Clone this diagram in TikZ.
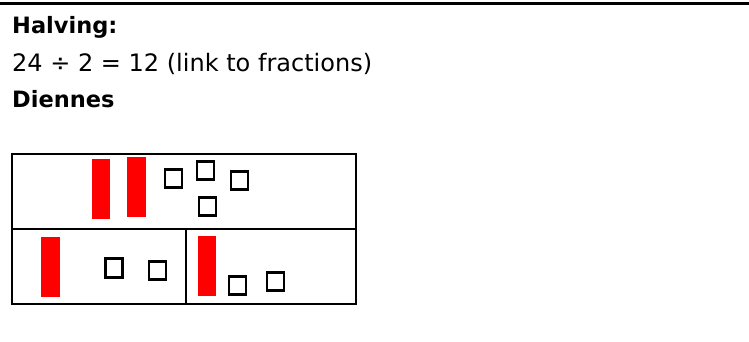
\documentclass[tikz,border=0pt]{standalone}
\usepackage{fontspec}
\setmainfont{DejaVu Sans}
\usetikzlibrary{positioning}

\begin{document}
\begin{tikzpicture}[x=1pt,y=1pt,yscale=-1,xscale=1,
  bar/.style={fill={rgb, 255:red, 255; green, 0; blue, 0},draw=none,inner sep=0pt,minimum width=18.5,minimum height=60},
  cube/.style={draw=black,line width=2.6,inner sep=0pt,minimum width=17,minimum height=18.5},
  txt/.style={anchor=base west,inner sep=0pt,font=\fontsize{24}{28}\selectfont},
  head/.style={anchor=base west,inner sep=0pt,font=\fontsize{22.5}{26}\selectfont\bfseries}]

\useasboundingbox (0,0) rectangle (749,341);

\draw [line width=3]    (0,3) -- (749,3) ;

% Text Node
\node (halving) at (12,33) [head] {Halving:};
\node (sum) at (12,71) [txt] {24 ÷ 2 = 12 (link to fractions)};
\node (diennes) at (12,107) [head] {Diennes};

% Grid
\draw [line width=2.6]    (12,154) rectangle (356,304) ;
\draw [line width=2.6]    (12,229) -- (356,229) ;
\draw [line width=2.6]    (186,229) -- (186,304) ;

% Top cell: 24
\node (tenA) at (101,189) [bar] {};
\node (tenB) at (136.5,187) [bar] {};
\node (oneA) at (173.5,178.5) [cube] {};
\node (oneB) at (205.5,170.5) [cube] {};
\node (oneC) at (239.5,180.5) [cube] {};
\node (oneD) at (207.5,206.5) [cube] {};

% Bottom cells: 12 and 12
\node (tenC) at (50.5,267) [bar] {};
\node (oneE) at (114,268) [cube] {};
\node (oneF) at (157.5,270.5) [cube] {};

\node (tenD) at (207,266) [bar] {};
\node (oneG) at (237.5,285.5) [cube] {};
\node (oneH) at (275.5,281.5) [cube] {};

\end{tikzpicture}
\end{document}
